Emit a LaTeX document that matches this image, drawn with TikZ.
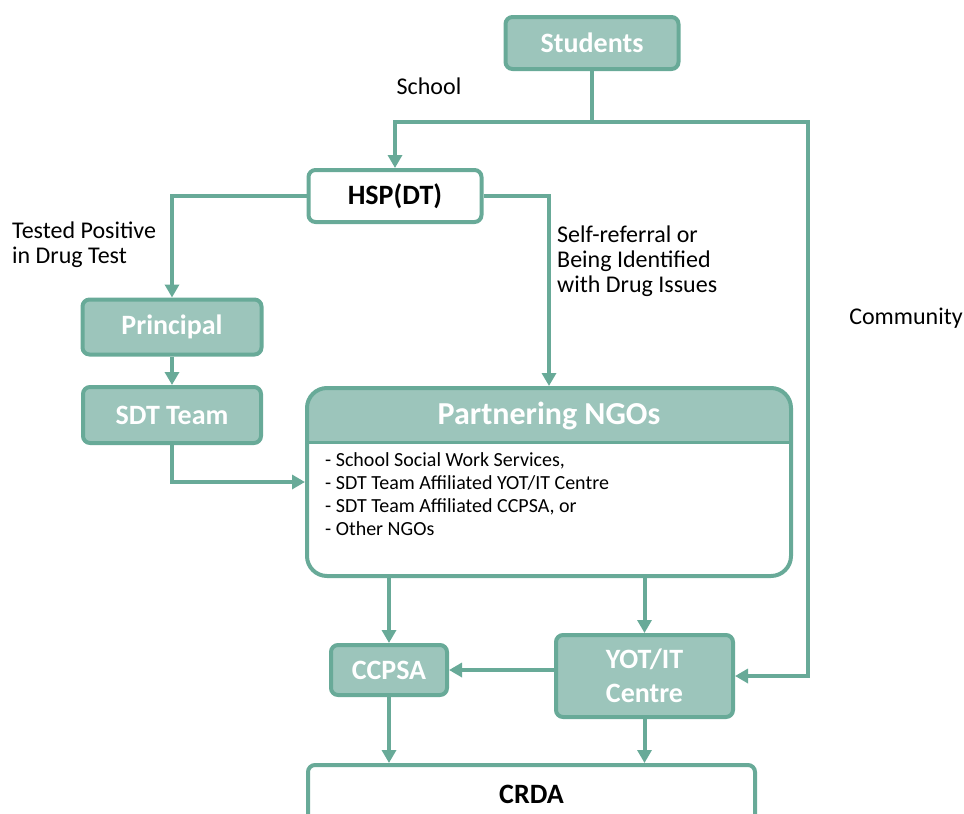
\documentclass[tikz,border=0pt]{standalone}
\usepackage{fontspec}
\setmainfont{Carlito}
\usetikzlibrary{arrows.meta,calc}
\definecolor{edgec}{RGB}{104,170,152}
\definecolor{fillc}{RGB}{156,197,187}
\begin{document}
\begin{tikzpicture}[x=1pt,y=-1pt,
  box/.style={draw=edgec, line width=4pt, rounded corners=7pt, fill=fillc, text=white,
    font=\fontsize{28}{34}\selectfont\bfseries, inner sep=0pt, align=center},
  wbox/.style={box, fill=white, text=black},
  conn/.style={draw=edgec, line width=4pt, -{Triangle[length=13pt,width=14pt]}},
  lbl/.style={font=\fontsize{24}{25}\selectfont, text=black, inner sep=0pt, align=left},
]
\useasboundingbox (0,0) rectangle (964,814);
\clip (0,0) rectangle (964,814);

% header band of the NGO box
\begin{scope}
  \clip[rounded corners=20pt] (307,388) rectangle (791,576);
  \fill[fillc] (307,388) rectangle (791,442);
\end{scope}

\node[box, minimum width=173, minimum height=52] (stu) at (592,43) {Students};
\node[wbox, minimum width=173, minimum height=52] (hsp) at (395,196) {HSP(DT)};
\node[box, minimum width=179, minimum height=55] (prin) at (172,327) {Principal};
\node[box, minimum width=178, minimum height=56] (sdt) at (172,415) {SDT Team};
\node[draw=edgec, line width=4pt, rounded corners=20pt, minimum width=484, minimum height=188, inner sep=0pt] (ngo) at (549,482) {};
\draw[edgec, line width=3pt] (307,442) -- (791,442);
\node[font=\fontsize{32}{34}\selectfont\bfseries, text=white, inner sep=0pt] (ngot) at (549,416) {Partnering NGOs};
\node[anchor=north west, align=left, font=\fontsize{20}{23.3}\selectfont, inner sep=0pt] (ngol) at (325,452)
  {- School Social Work Services,\\- SDT Team Affiliated YOT/IT Centre\\- SDT Team Affiliated CCPSA, or\\- Other NGOs};
\node[box, minimum width=116, minimum height=50] (ccpsa) at (389,670) {CCPSA};
\node[box, minimum width=177, minimum height=82] (yot) at (644.5,676) {YOT/IT\\Centre};
\node[wbox, minimum width=447, minimum height=58] (crda) at (531.5,794) {CRDA};

\coordinate (j1) at (592,122);
\coordinate (c1) at (808,122);
\draw[conn] (stu.south) -- (j1) -| (hsp.north);
\draw[conn] (j1) -- (c1) |- (yot.east);
\draw[conn] (hsp.west) -| (prin.north);
\draw[conn] (hsp.east) -| (ngo.north);
\draw[conn] (prin.south) -- (sdt.north);
\draw[conn] (sdt.south) |- (ngo.west);
\draw[conn] (ngo.south -| ccpsa.north) -- (ccpsa.north);
\draw[conn] (ngo.south -| yot.north) -- (yot.north);
\draw[conn] (yot.west |- ccpsa.east) -- (ccpsa.east);
\draw[conn] (ccpsa.south) -- (ccpsa.south |- crda.north);
\draw[conn] (yot.south) -- (yot.south |- crda.north);

\node[lbl] (school) at (429,86) {School};
\node[lbl] (comm) at (906,318) {Community};
\node[lbl, anchor=north west] (tp) at (12,222) {Tested Positive\\in Drug Test};
\node[lbl, anchor=north west] (sr) at (557,226) {Self-referral or\\Being Identified\\with Drug Issues};
\end{tikzpicture}
\end{document}
